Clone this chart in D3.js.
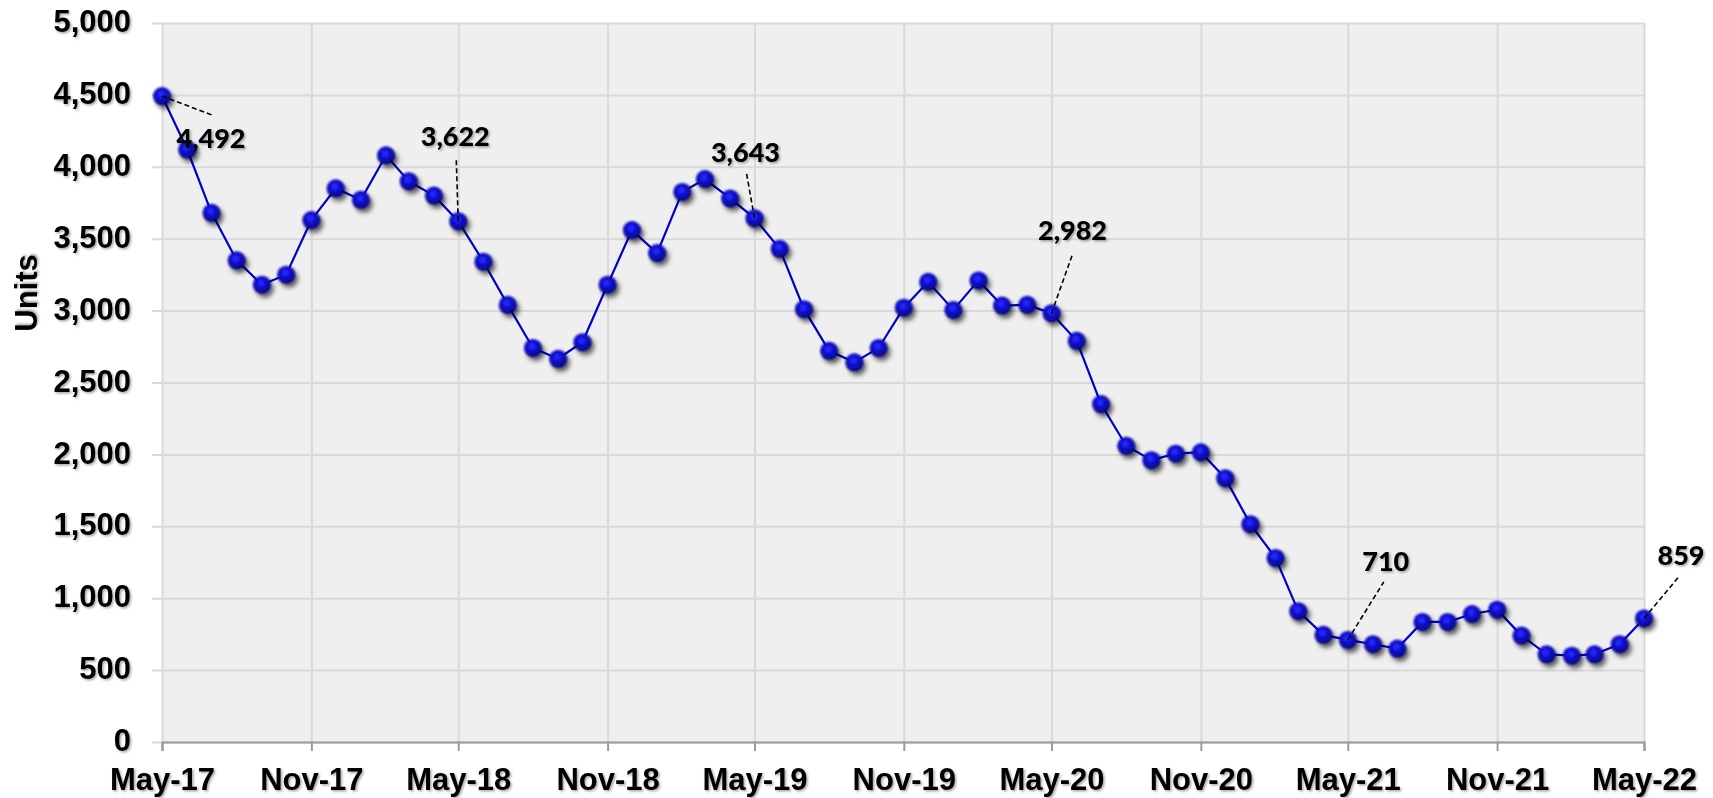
<!DOCTYPE html>
<html>
<head>
<meta charset="utf-8">
<script src="https://cdn.jsdelivr.net/npm/d3@7"></script>
<style>
  html, body { margin: 0; padding: 0; background: #ffffff; }
  svg { display: block; }
</style>
</head>
<body>
<svg id="chart" width="1713" height="798"></svg>
<script>
// ---------------- DATA ----------------
const startMonth = "2017-05";
const endMonth = "2022-05";
const values = [
  4492, 4120, 3680, 3350, 3180, 3250, 3630, 3850, 3770, 4080, 3900, 3800,
  3622, 3340, 3040, 2740, 2665, 2780, 3180, 3560, 3400, 3825, 3915, 3780,
  3643, 3430, 3010, 2720, 2640, 2740, 3020, 3200, 3005, 3210, 3035, 3040,
  2982, 2790, 2350, 2060, 1960, 2005, 2015, 1835, 1515, 1280, 910, 745,
  710, 680, 650, 835, 835, 890, 920, 740, 610, 600, 610, 680,
  859
];
const xTickLabels = ["May-17","Nov-17","May-18","Nov-18","May-19","Nov-19","May-20","Nov-20","May-21","Nov-21","May-22"];
const yTicks = [0, 500, 1000, 1500, 2000, 2500, 3000, 3500, 4000, 4500, 5000];
const labelledMonths = ["2017-05","2018-05","2019-05","2020-05","2021-05","2022-05"];
const yTitle = "Units";

// ---------------- LAYOUT / STYLE ----------------
const W = 1713, H = 798;
const M = { left: 162, right: 1644, top: 23, bottom: 742 };
// label layout offsets (px) relative to the point: leader end and label anchor
const labelLayout = [
  { lx: 50, ly: 19, tx: 49, ty: 52 },
  { lx: -2, ly: -62, tx: -3, ty: -75 },
  { lx: -8, ly: -45, tx: -9, ty: -56 },
  { lx: 21, ly: -59, tx: 21, ty: -73 },
  { lx: 36, ly: -58, tx: 38, ty: -69 },
  { lx: 35, ly: -42, tx: 37, ty: -53 }
];

const parseMonth = d3.timeParse("%Y-%m");
const dStart = parseMonth(startMonth), dEnd = parseMonth(endMonth);
const dates = d3.timeMonth.range(dStart, d3.timeMonth.offset(dEnd, 1));
const series = dates.map((d, i) => ({ date: d, value: values[i] }));
const xTickDates = d3.timeMonth.range(dStart, d3.timeMonth.offset(dEnd, 1), 6);

const x = d3.scaleTime().domain([dStart, dEnd]).range([M.left, M.right]);
const y = d3.scaleLinear().domain([0, 5000]).range([M.bottom, M.top]);

const svg = d3.select("#chart");
const defs = svg.append("defs");

const ts = defs.append("filter").attr("id", "textShadow").attr("x", "-10%").attr("y", "-20%").attr("width", "130%").attr("height", "150%");
ts.append("feDropShadow").attr("dx", 1.5).attr("dy", 1.5).attr("stdDeviation", 1).attr("flood-color", "#000").attr("flood-opacity", 0.35);

const ms = defs.append("filter").attr("id", "markerShadow").attr("x", "-60%").attr("y", "-60%").attr("width", "250%").attr("height", "250%");
ms.append("feGaussianBlur").attr("in", "SourceGraphic").attr("stdDeviation", 0.9).attr("result", "soft");
ms.append("feDropShadow").attr("in", "soft").attr("dx", 3).attr("dy", 4).attr("stdDeviation", 2.2).attr("flood-color", "#000").attr("flood-opacity", 0.6);

const grad = defs.append("radialGradient").attr("id", "ball").attr("cx", "45%").attr("cy", "40%").attr("r", "60%");
grad.append("stop").attr("offset", "0%").attr("stop-color", "#3434ff");
grad.append("stop").attr("offset", "45%").attr("stop-color", "#0e0ed8");
grad.append("stop").attr("offset", "80%").attr("stop-color", "#070796");
grad.append("stop").attr("offset", "100%").attr("stop-color", "#03035a");

svg.append("rect").attr("width", W).attr("height", H).attr("fill", "#ffffff");

// plot background
svg.append("rect")
  .attr("x", M.left).attr("y", M.top)
  .attr("width", M.right - M.left).attr("height", M.bottom - M.top)
  .attr("fill", "#efefef");

// vertical gridlines
const xGrid = svg.append("g").attr("transform", `translate(0,${M.bottom})`)
  .call(d3.axisBottom(x).tickValues(xTickDates).tickSize(-(M.bottom - M.top)).tickFormat(""));
xGrid.select(".domain").remove();
xGrid.selectAll("line").attr("stroke", "#d9d9d9").attr("stroke-width", 2);

// horizontal gridlines + y labels
const yAxis = svg.append("g").attr("transform", `translate(${M.right},0)`)
  .call(d3.axisLeft(y).tickValues(yTicks).tickSize(M.right - 152).tickPadding(21).tickFormat(d3.format(",")));
yAxis.select(".domain").remove();
yAxis.selectAll("line").attr("stroke", "#d9d9d9").attr("stroke-width", 2);
yAxis.selectAll("text")
  .attr("dy", "0.28em")
  .attr("fill", "#000")
  .style("font-family", "'Liberation Sans', Arial, sans-serif")
  .style("font-weight", "bold")
  .style("font-size", "31px")
  .attr("filter", "url(#textShadow)");

// bottom axis
const xAxis = svg.append("g").attr("transform", `translate(0,${M.bottom})`)
  .call(d3.axisBottom(x).tickValues(xTickDates).tickSize(9).tickSizeOuter(9).tickPadding(17)
    .tickFormat((d, i) => xTickLabels[i]));
xAxis.select(".domain").attr("stroke", "#9a9a9a").attr("stroke-width", 2);
xAxis.selectAll("line").attr("stroke", "#9a9a9a").attr("stroke-width", 2);
xAxis.selectAll("text")
  .attr("fill", "#000")
  .style("font-family", "'Liberation Sans', Arial, sans-serif")
  .style("font-weight", "bold")
  .style("font-size", "31px")
  .attr("filter", "url(#textShadow)");

// y title
svg.append("text")
  .attr("transform", `translate(37,293) rotate(-90)`)
  .attr("text-anchor", "middle")
  .style("font-family", "'Liberation Sans', Arial, sans-serif")
  .style("font-weight", "bold")
  .style("font-size", "31px")
  .attr("fill", "#000")
  .attr("filter", "url(#textShadow)")
  .text(yTitle);

// line
const line = d3.line().x(d => x(d.date)).y(d => y(d.value));
svg.append("path")
  .datum(series)
  .attr("d", line)
  .attr("fill", "none")
  .attr("stroke", "#0000c8")
  .attr("stroke-width", 2.2);

// markers
svg.append("g").selectAll("circle")
  .data(series)
  .join("circle")
  .attr("cx", d => x(d.date))
  .attr("cy", d => y(d.value))
  .attr("r", 9)
  .attr("fill", "url(#ball)")
  .attr("filter", "url(#markerShadow)");

// annotations
const fmt = d3.format(",");
const labelled = labelledMonths.map((m, i) => {
  const d = series.find(s => +s.date === +parseMonth(m));
  return { ...d, lay: labelLayout[i] };
});
const ann = svg.append("g");
ann.selectAll("line")
  .data(labelled)
  .join("line")
  .attr("x1", d => x(d.date)).attr("y1", d => y(d.value))
  .attr("x2", d => x(d.date) + d.lay.lx).attr("y2", d => y(d.value) + d.lay.ly)
  .attr("stroke", "#000").attr("stroke-width", 1.6).attr("stroke-dasharray", "5,3");
ann.selectAll("text")
  .data(labelled)
  .join("text")
  .attr("x", d => x(d.date) + d.lay.tx)
  .attr("y", d => y(d.value) + d.lay.ty)
  .attr("text-anchor", "middle")
  .style("font-family", "'Liberation Sans Narrow', 'Lato', sans-serif")
  .style("font-weight", "900")
  .style("font-size", "27px")
  .attr("fill", "#000")
  .attr("filter", "url(#textShadow)")
  .text(d => fmt(d.value));
</script>
</body>
</html>
